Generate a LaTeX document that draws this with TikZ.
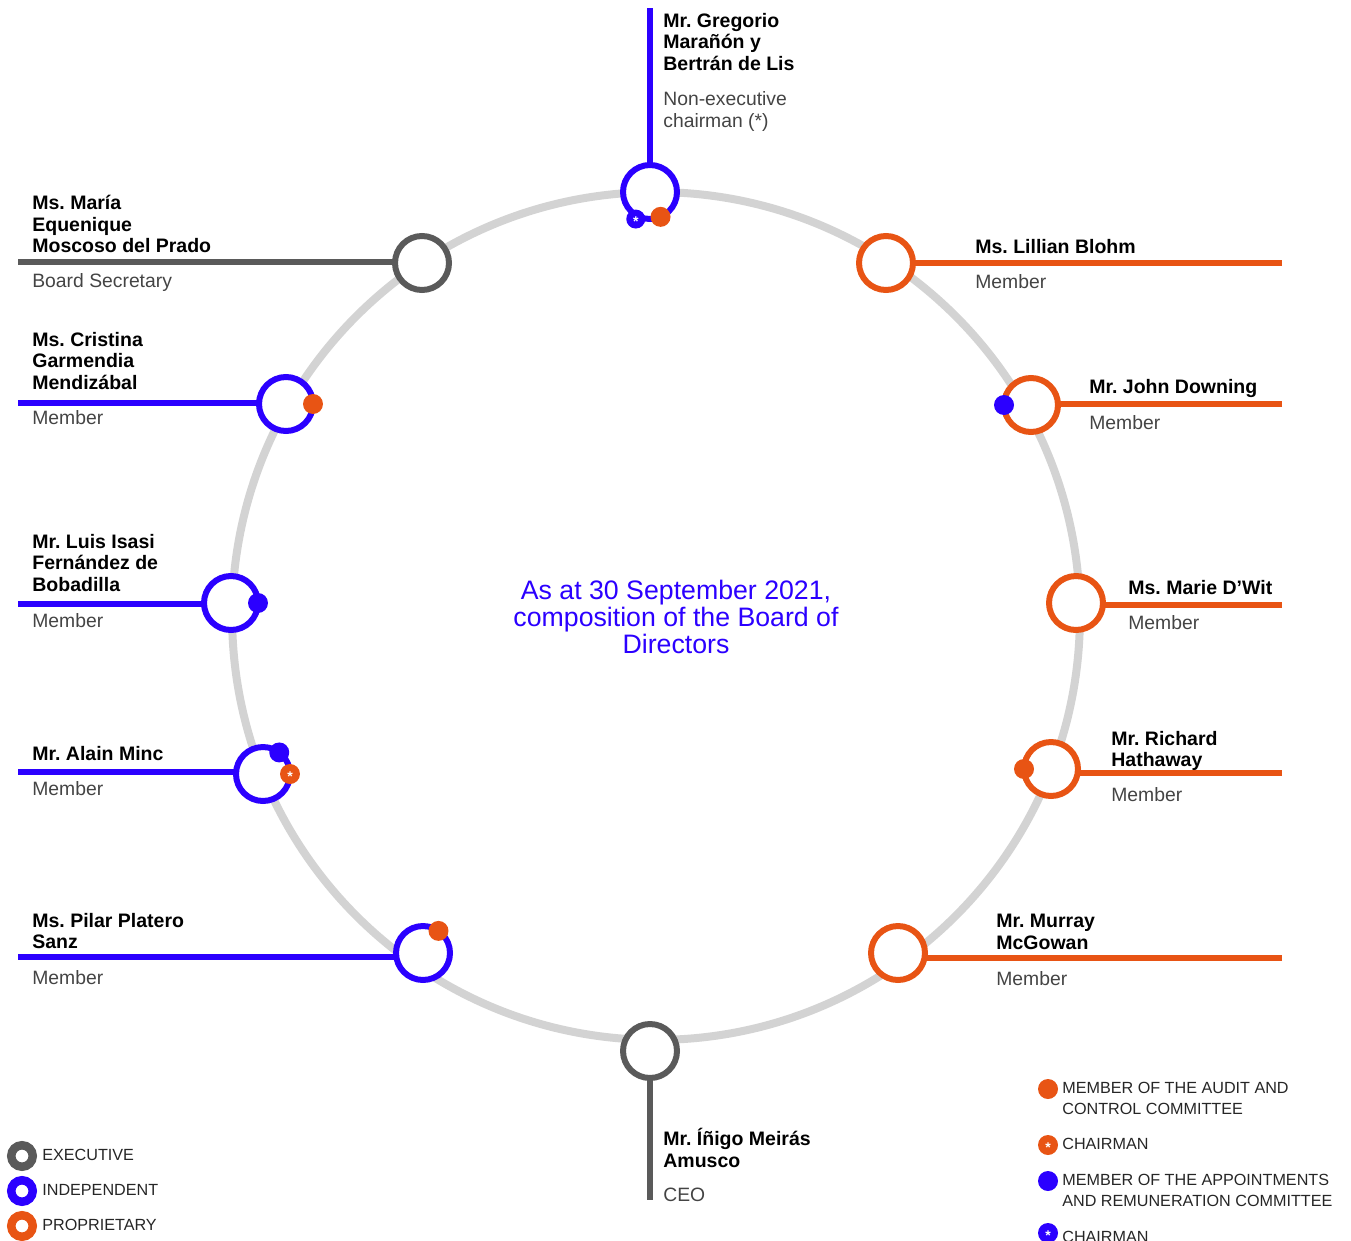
\documentclass[tikz,border=0pt]{standalone}
\usepackage{fontspec}
\setmainfont{Liberation Sans}
\usepackage{tikz}
\frenchspacing

\definecolor{indep}{HTML}{2B00FF}
\definecolor{propr}{HTML}{E85414}
\definecolor{exec}{HTML}{5A5A5A}
\definecolor{track}{HTML}{D3D3D3}
\definecolor{rolegray}{HTML}{444444}

\begin{document}
\begin{tikzpicture}[x=0.02cm, y=-0.02cm,
  ring/.style={circle, draw=#1, fill=white, line width=0.12cm, minimum size=1.08cm, inner sep=0pt, outer sep=0pt},
  keyring/.style={circle, draw=#1, fill=white, line width=0.17cm, minimum size=0.43cm, inner sep=0pt, outer sep=0pt},
  dot/.style={circle, fill=#1, minimum size=0.4cm, inner sep=0pt, outer sep=0pt},
  starmark/.style={text=white, inner sep=0pt, yshift=-1.6pt, font=\bfseries\fontsize{8}{8}\selectfont},
  lead/.style={draw=#1, line width=0.12cm},
  dirname/.style={anchor=north west, align=left, inner sep=0pt, font=\bfseries\fontsize{11.1}{12.2}\selectfont},
  dirrole/.style={anchor=north west, align=left, inner sep=0pt, text=rolegray, font=\fontsize{11}{12.5}\selectfont},
  keytext/.style={anchor=west, align=left, inner sep=0pt, text=black!85, font=\fontsize{9.2}{12}\selectfont}]
  \useasboundingbox (0,0) rectangle (1351,1240);

  % the board table
  \draw[track, line width=0.16cm] (656,616) circle [radius=8.48cm];
  \node[text=indep, align=center, font=\fontsize{15.2}{15.2}\selectfont] (title) at (676,617)
    {As at 30 September 2021,\\composition of the Board of\\Directors};

  % free ends of the leader lines
  \coordinate (eG) at (650,8);
  \coordinate (eI) at (650,1200);
  \coordinate (eMa) at (18,262);
  \coordinate (eCG) at (18,403);
  \coordinate (eLI) at (18,604);
  \coordinate (eAM) at (18,772);
  \coordinate (ePP) at (18,957);
  \coordinate (eLB) at (1282,263);
  \coordinate (eJD) at (1282,404);
  \coordinate (eMD) at (1282,605);
  \coordinate (eRH) at (1282,773);
  \coordinate (eMM) at (1282,958);

  % directors
  \node[ring=indep] (rG) at (650,192) {};
  \node[ring=exec] (rMa) at (422,263) {};
  \node[ring=propr] (rLB) at (886,263) {};
  \node[ring=indep] (rCG) at (286,404) {};
  \node[ring=propr] (rJD) at (1031,405) {};
  \node[ring=indep] (rLI) at (231,603) {};
  \node[ring=propr] (rMD) at (1076,603) {};
  \node[ring=indep] (rAM) at (263,774) {};
  \node[ring=propr] (rRH) at (1051,769) {};
  \node[ring=indep] (rPP) at (423,953) {};
  \node[ring=propr] (rMM) at (898,953) {};
  \node[ring=exec] (rI) at (650,1051) {};

  \path
    (rG.north) edge[lead=indep] (eG)
    (rI.south) edge[lead=exec] (eI)
    (eMa) edge[lead=exec] (eMa -| rMa.west)
    (eCG) edge[lead=indep] (eCG -| rCG.west)
    (eLI) edge[lead=indep] (eLI -| rLI.west)
    (eAM) edge[lead=indep] (eAM -| rAM.west)
    (ePP) edge[lead=indep] (ePP -| rPP.west)
    (eLB) edge[lead=propr] (eLB -| rLB.east)
    (eJD) edge[lead=propr] (eJD -| rJD.east)
    (eMD) edge[lead=propr] (eMD -| rMD.east)
    (eRH) edge[lead=propr] (eRH -| rRH.east)
    (eMM) edge[lead=propr] (eMM -| rMM.east);

  % committee marks
  \node[dot=indep, minimum size=0.38cm] (cG1) at ([shift={(-2,3)}]rG.243) {};
  \node[starmark] at (cG1) {*};
  \node[dot=propr] (cG2) at (rG.293) {};
  \node[dot=propr] (cCG) at (rCG.east) {};
  \node[dot=indep] (cJD) at (rJD.west) {};
  \node[dot=indep] (cLI) at (rLI.east) {};
  \node[dot=indep] (cAM1) at (rAM.53) {};
  \node[dot=propr] (cAM2) at (rAM.east) {};
  \node[starmark] at (cAM2) {*};
  \node[dot=propr] (cRH) at (rRH.west) {};
  \node[dot=propr] (cPP) at (rPP.55) {};

  % names and roles
  \node[dirname] (nG) at (663,13) {Mr. Gregorio\\Marañón y\\Bertrán de Lis};
  \node[dirrole] (tG) at (663,91) {Non-executive\\chairman (*)};
  \node[dirname] (nMa) at (32,195) {Ms. María\\Equenique\\Moscoso del Prado};
  \node[dirrole] (tMa) at (32,273) {Board Secretary};
  \node[dirname] (nLB) at (975,239) {Ms. Lillian Blohm};
  \node[dirrole] (tLB) at (975,274) {Member};
  \node[dirname] (nCG) at (32,332) {Ms. Cristina\\Garmendia\\Mendizábal};
  \node[dirrole] (tCG) at (32,410) {Member};
  \node[dirname] (nJD) at (1089,379) {Mr. John Downing};
  \node[dirrole] (tJD) at (1089,415) {Member};
  \node[dirname] (nLI) at (32,534) {Mr. Luis Isasi\\Fernández de\\Bobadilla};
  \node[dirrole] (tLI) at (32,613) {Member};
  \node[dirname] (nMD) at (1128,580) {Ms. Marie D’Wit};
  \node[dirrole] (tMD) at (1128,615) {Member};
  \node[dirname] (nAM) at (32,746) {Mr. Alain Minc};
  \node[dirrole] (tAM) at (32,781) {Member};
  \node[dirname] (nRH) at (1111,731) {Mr. Richard\\Hathaway};
  \node[dirrole] (tRH) at (1111,787) {Member};
  \node[dirname] (nPP) at (32,913) {Ms. Pilar Platero\\Sanz};
  \node[dirrole] (tPP) at (32,970) {Member};
  \node[dirname] (nMM) at (996,914) {Mr. Murray\\McGowan};
  \node[dirrole] (tMM) at (996,971) {Member};
  \node[dirname] (nI) at (663,1128) {Mr. Íñigo Meirás\\Amusco};
  \node[dirrole] (tI) at (663,1188) {CEO};

  % legend
  \node[keyring=exec] (kE) at (22,1156) {};
  \node[keyring=indep] (kD) at (22,1191) {};
  \node[keyring=propr] (kP) at (22,1226) {};
  \node[keytext] (kEt) at (42,1155) {EXECUTIVE};
  \node[keytext] (kDt) at (42,1190) {INDEPENDENT};
  \node[keytext] (kPt) at (42,1225) {PROPRIETARY};

  \node[dot=propr] (kA) at (1048,1089) {};
  \node[dot=propr] (kAc) at (1048,1145) {};
  \node[starmark] at (kAc) {*};
  \node[dot=indep] (kN) at (1048,1181) {};
  \node[dot=indep] (kNc) at (1048,1233) {};
  \node[starmark] at (kNc) {*};
  \node[keytext, anchor=north west] (kAt) at (1062,1082) {MEMBER OF THE AUDIT AND\\CONTROL COMMITTEE};
  \node[keytext] (kAct) at (1062,1144) {CHAIRMAN};
  \node[keytext, anchor=north west] (kNt) at (1062,1174) {MEMBER OF THE APPOINTMENTS\\AND REMUNERATION COMMITTEE};
  \node[keytext] (kNct) at (1062,1237) {CHAIRMAN};
\end{tikzpicture}
\end{document}
